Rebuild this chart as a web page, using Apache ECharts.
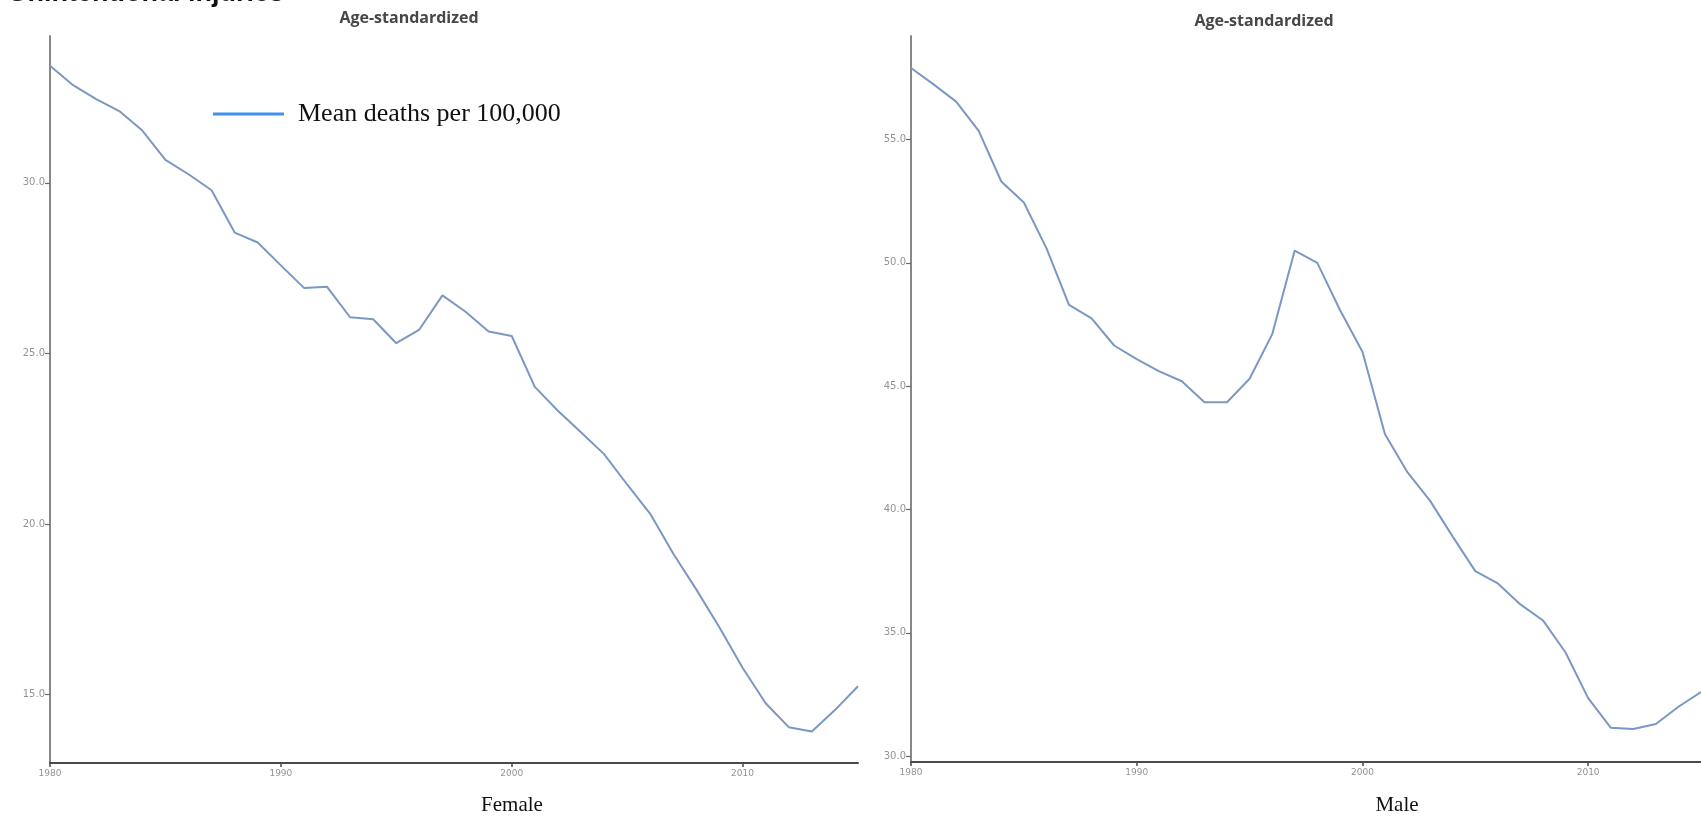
<!DOCTYPE html>
<html>
<head>
<meta charset="utf-8">
<title>Age-standardized death rates</title>
<script src="https://cdn.jsdelivr.net/npm/echarts@6/dist/echarts.min.js"></script>
<style>
  html, body { margin: 0; padding: 0; background: #ffffff; }
  #chart { width: 1701px; height: 824px; }
</style>
</head>
<body>
<div id="chart"></div>
<script>
// Years on the horizontal axis
const years = [1980, 1981, 1982, 1983, 1984, 1985, 1986, 1987, 1988, 1989,
               1990, 1991, 1992, 1993, 1994, 1995, 1996, 1997, 1998, 1999,
               2000, 2001, 2002, 2003, 2004, 2005, 2006, 2007, 2008, 2009,
               2010, 2011, 2012, 2013, 2014, 2015];

// Mean deaths per 100,000, age-standardized
const femaleRate = [33.43, 32.86, 32.45, 32.10, 31.53, 30.67, 30.25, 29.78, 28.54, 28.25,
                    27.58, 26.92, 26.95, 26.06, 26.00, 25.30, 25.70, 26.70, 26.22, 25.64,
                    25.51, 24.02, 23.32, 22.69, 22.05, 21.16, 20.30, 19.13, 18.08, 16.97,
                    15.79, 14.75, 14.05, 13.92, 14.55, 15.25];

const maleRate = [57.90, 57.24, 56.54, 55.35, 53.30, 52.45, 50.60, 48.30, 47.75, 46.65,
                  46.10, 45.60, 45.20, 44.35, 44.35, 45.30, 47.10, 50.50, 50.00, 48.10,
                  46.40, 43.05, 41.50, 40.35, 38.90, 37.50, 37.00, 36.15, 35.50, 34.20,
                  32.35, 31.15, 31.10, 31.30, 32.00, 32.60];

// Tick labels
const femaleTicks = [15, 20, 25, 30];
const maleTicks = [30, 35, 40, 45, 50, 55];

const seriesName = 'Mean deaths per 100,000';
const panelTitle = 'Age-standardized';
const heading = 'Unintentional injuries';
const panelNames = ['Female', 'Male'];

const pairs = (vals) => years.map((y, i) => [y, vals[i]]);

const axisLabelStyle = { color: '#939393', fontSize: 10, fontFamily: 'DejaVu Sans' };

function xAxisFor(gridIndex) {
  return {
    type: 'value', gridIndex: gridIndex, min: 1980, max: 2015, interval: 10,
    axisLine: { show: true, onZero: false, lineStyle: { color: '#4a4a4a', width: 2 } },
    axisTick: { show: true, length: 4, lineStyle: { color: '#4a4a4a', width: 1.5 } },
    axisLabel: Object.assign({ margin: 6, formatter: (v) => String(v), showMaxLabel: false }, axisLabelStyle, { fontSize: 9 }),
    splitLine: { show: false }
  };
}

function yAxisFor(gridIndex, min, max, ticks) {
  return {
    type: 'value', gridIndex: gridIndex, min: min, max: max,
    axisLine: { show: true, lineStyle: { color: '#7a7a7a', width: 1.8 } },
    axisTick: { show: true, length: 5, customValues: ticks, lineStyle: { color: '#6a6a6a', width: 1.2 } },
    axisLabel: Object.assign({ margin: 5, customValues: ticks, formatter: (v) => v.toFixed(1) }, axisLabelStyle),
    splitLine: { show: false }
  };
}

const lineStyle = { color: '#7b98c3', width: 2 };

const chart = echarts.init(document.getElementById('chart'), null, { renderer: 'canvas' });

chart.setOption({
  backgroundColor: '#ffffff',
  animation: false,
  grid: [
    { left: 50, top: 36, width: 808, bottom: 61 },
    { left: 911, top: 36, width: 798, bottom: 62 }
  ],
  xAxis: [xAxisFor(0), xAxisFor(1)],
  yAxis: [
    yAxisFor(0, 13.0, 34.3, femaleTicks),
    yAxisFor(1, 29.76, 59.2, maleTicks)
  ],
  legend: {
    left: 208, top: 96,
    icon: 'rect', itemWidth: 71, itemHeight: 3,
    data: [{ name: seriesName, itemStyle: { color: '#3f90ee' } }],
    textStyle: { color: '#111111', fontSize: 26, fontFamily: 'Liberation Serif', padding: [0, 0, 0, 9] }
  },
  series: [
    { name: seriesName, type: 'line', xAxisIndex: 0, yAxisIndex: 0, data: pairs(femaleRate),
      showSymbol: false, lineStyle: lineStyle, itemStyle: { color: lineStyle.color } },
    { name: seriesName, type: 'line', xAxisIndex: 1, yAxisIndex: 1, data: pairs(maleRate),
      showSymbol: false, lineStyle: lineStyle, itemStyle: { color: lineStyle.color } }
  ],
  graphic: [
    { type: 'text', left: 8, top: -20,
      style: { text: heading, fill: '#111111', font: 'bold 27px "Liberation Sans"' } },
    { type: 'text', x: 409, y: 18,
      style: { text: panelTitle, fill: '#474747', font: 'bold 16px "Open Sans"', align: 'center', verticalAlign: 'middle' } },
    { type: 'text', x: 1264, y: 21,
      style: { text: panelTitle, fill: '#474747', font: 'bold 16px "Open Sans"', align: 'center', verticalAlign: 'middle' } },
    { type: 'text', x: 512, y: 805,
      style: { text: panelNames[0], fill: '#111111', font: '21px "Liberation Serif"', align: 'center', verticalAlign: 'middle' } },
    { type: 'text', x: 1397, y: 805,
      style: { text: panelNames[1], fill: '#111111', font: '21px "Liberation Serif"', align: 'center', verticalAlign: 'middle' } }
  ]
});
</script>
</body>
</html>
